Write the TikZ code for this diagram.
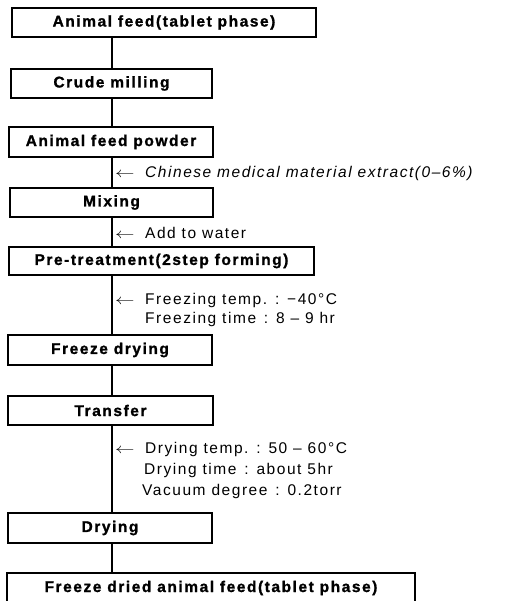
\documentclass[tikz,border=0pt]{standalone}
\usepackage{fontspec}
\setmainfont{Liberation Sans}
\newfontfamily\flowfont[LetterSpace=10, BoldFeatures={FakeBold=1.2}]{Liberation Sans}
\newcommand{\annarrow}{\makebox[30pt][l]{\scalebox{1.35}[1]{$\leftarrow$}}}
\newcommand{\colsep}{\ \hspace{2pt}:\hspace{2pt}\ }
\begin{document}
\begin{tikzpicture}[x=1pt,y=-1pt,
  stepbox/.style={draw, line width=1.2pt, inner sep=0pt,
    font=\flowfont\bfseries\fontsize{15.5}{18}\selectfont},
  ann/.style={anchor=base west, inner sep=0pt,
    font=\flowfont\fontsize{15.5}{18}\selectfont},
  conn/.style={line width=1.2pt}]
\useasboundingbox (0,0) rectangle (505,601);
\fill[white] (0,0) rectangle (505,601);
\clip (0,0) rectangle (505,601);
% process boxes
\node[stepbox, minimum width=304pt, minimum height=29pt] (b1) at (164,22.5) {Animal feed(tablet phase)};
\node[stepbox, minimum width=201pt, minimum height=29pt] (b2) at (111.5,83.5) {Crude milling};
\node[stepbox, minimum width=204pt, minimum height=30pt] (b3) at (111,142) {Animal feed powder};
\node[stepbox, minimum width=203pt, minimum height=29pt] (b4) at (111.5,202.5) {Mixing};
\node[stepbox, minimum width=305pt, minimum height=28pt] (b5) at (161.5,261) {Pre-treatment(2step forming)};
\node[stepbox, minimum width=204pt, minimum height=30pt] (b6) at (110,350) {Freeze drying};
\node[stepbox, minimum width=205pt, minimum height=29pt] (b7) at (110.5,410.5) {Transfer};
\node[stepbox, minimum width=204pt, minimum height=30pt] (b8) at (110,528) {Drying};
\node[stepbox, minimum width=408pt, minimum height=30pt] (b9) at (211,588) {Freeze dried animal feed(tablet phase)};
% connectors
\coordinate (lx) at (112,0);
\draw[conn] (b1.south -| lx) -- (b2.north -| lx);
\draw[conn] (b2.south -| lx) -- (b3.north -| lx);
\draw[conn] (b3.south -| lx) -- (b4.north -| lx);
\draw[conn] (b4.south -| lx) -- (b5.north -| lx);
\draw[conn] (b5.south -| lx) -- (b6.north -| lx);
\draw[conn] (b6.south -| lx) -- (b7.north -| lx);
\draw[conn] (b7.south -| lx) -- (b8.north -| lx);
\draw[conn] (b8.south -| lx) -- (b9.north -| lx);
% annotations
\node[ann] (a1) at (115,178) {\annarrow\itshape Chinese medical material extract(0–6\%)};
\node[ann] (a2) at (115,239) {\annarrow Add to water};
\node[ann] (a3) at (115,304) {\annarrow Freezing temp.\colsep −40°C};
\node[ann] (a4) at (145,323) {Freezing time\colsep 8 – 9 hr};
\node[ann] (a5) at (115,453) {\annarrow Drying temp.\colsep 50 – 60°C};
\node[ann] (a6) at (144,474) {Drying time\colsep about 5hr};
\node[ann] (a7) at (142,495) {Vacuum degree\colsep 0.2torr};
\end{tikzpicture}
\end{document}
